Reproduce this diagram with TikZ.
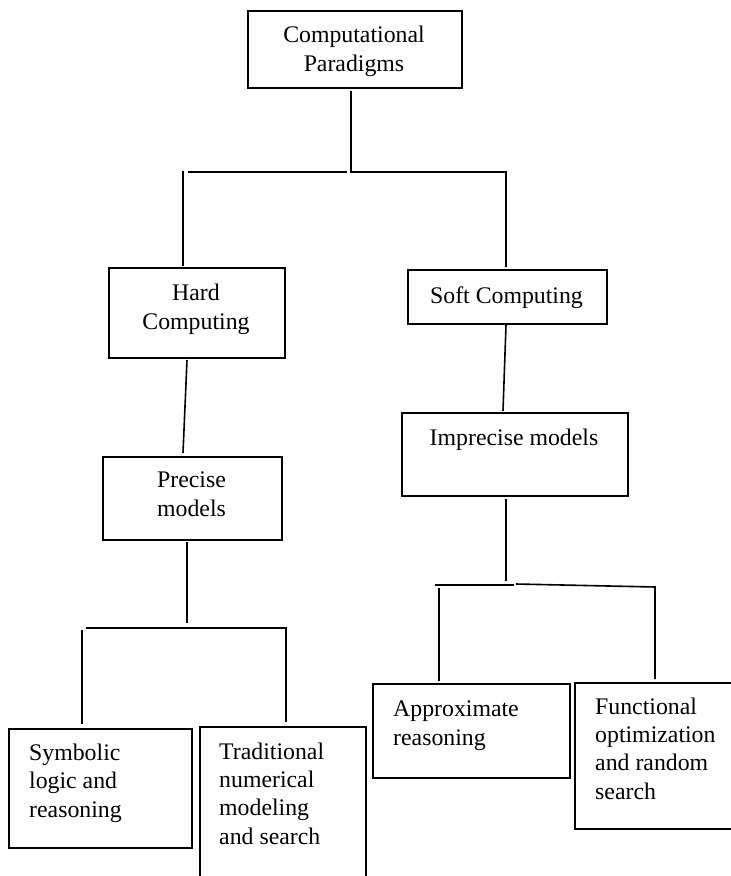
\documentclass[tikz,border=0pt]{standalone}
\usepackage{fontspec}
\setmainfont{Liberation Serif}
\begin{document}
\begin{tikzpicture}[x=1pt,y=-1pt,
  every node/.style={font=\fontsize{23.8}{28.3}\selectfont},
  box/.style={draw, line width=1.6pt, inner sep=0pt, anchor=north west},
  mid/.style={inner sep=0pt, anchor=base, align=center},
  lft/.style={inner sep=0pt, anchor=base west, align=left},
  link/.style={line width=1.6pt}]
\fill[white] (0,0) rectangle (731,876);
\useasboundingbox (0,0) rectangle (731,876);

% boxes
\node[box, minimum width=214, minimum height=77] (cp)   at (247,10)  {};
\node[box, minimum width=176, minimum height=90] (hard) at (108,267) {};
\node[box, minimum width=199, minimum height=54] (soft) at (407,269) {};
\node[box, minimum width=179, minimum height=83] (prec) at (102,456) {};
\node[box, minimum width=226, minimum height=83] (impr) at (401,412) {};
\node[box, minimum width=183, minimum height=119] (sym) at (8,728)   {};
\node[box, minimum width=166, minimum height=190] (trad) at (199,726) {};
\node[box, minimum width=197, minimum height=94] (appr) at (372,683) {};
\node[box, minimum width=195, minimum height=146] (func) at (574,682) {};

% labels (anchored at the baseline of their last line)
\node[mid] (cpT)   at (354,71)  {Computational\\Paradigms};
\node[mid] (hardT) at (196,329) {Hard\\Computing};
\node[mid] (softT) at (506.5,303) {Soft Computing};
\node[mid] (imprT) at (514,445) {Imprecise models};
\node[mid] (precT) at (191.5,516) {Precise\\models};
\node[lft] (symT)  at (29,817)  {Symbolic\\logic and\\reasoning};
\node[lft] (tradT) at (219,844) {Traditional\\numerical\\modeling\\and search};
\node[lft] (apprT) at (393,745) {Approximate\\reasoning};
\node[lft] (funcT) at (595,799) {Functional\\optimization\\and random\\search};

% connector points
\coordinate (cpS)   at (351,91);
\coordinate (cpJ)   at (351,172);
\coordinate (cpL)   at (188,172);
\coordinate (cpLe)  at (347,172);
\coordinate (cpR)   at (506,172);
\coordinate (hardN) at (183,171);
\coordinate (hardNe) at (183,266);
\coordinate (softN) at (506,267);
\coordinate (hardS) at (187,360);
\coordinate (precN) at (183,453);
\coordinate (softS) at (506,325);
\coordinate (imprN) at (503,411);
\coordinate (precS) at (187,542);
\coordinate (precJ) at (187,623);
\coordinate (pL)    at (86,628);
\coordinate (pR)    at (286,628);
\coordinate (symN0) at (82,630);
\coordinate (symN)  at (82,724);
\coordinate (tradN) at (286,722);
\coordinate (imprS) at (506,499);
\coordinate (imprJ) at (506,581);
\coordinate (iL)    at (435,585);
\coordinate (iLe)   at (514,585);
\coordinate (iRs)   at (516,584);
\coordinate (iR)    at (655,587);
\coordinate (apprN0) at (439,588);
\coordinate (apprN) at (439,681);
\coordinate (funcN) at (655,679);

% connectors
\draw[link] (cpS) -- (cpJ) -- (cpR) -- (softN);
\draw[link] (cpL) -- (cpLe);
\draw[link] (hardN) -- (hardNe);
\draw[link] (hardS) -- (precN);
\draw[link] (softS) -- (imprN);
\draw[link] (precS) -- (precJ);
\draw[link] (pL) -- (pR) -- (tradN);
\draw[link] (symN0) -- (symN);
\draw[link] (imprS) -- (imprJ);
\draw[link] (iL) -- (iLe);
\draw[link] (iRs) -- (iR) -- (funcN);
\draw[link] (apprN0) -- (apprN);
\end{tikzpicture}
\end{document}
